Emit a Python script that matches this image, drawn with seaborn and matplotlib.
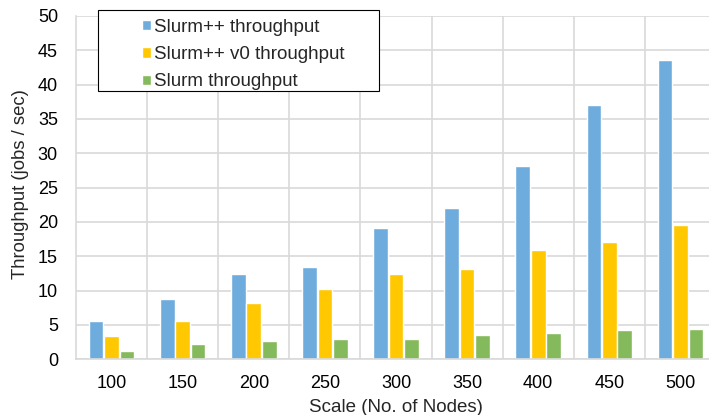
import matplotlib
matplotlib.use("Agg")
import matplotlib.pyplot as plt
import seaborn as sns
import pandas as pd
import numpy as np
from matplotlib.patches import Rectangle

scales = ["100", "150", "200", "250", "300", "350", "400", "450", "500"]
slurmpp = [5.6, 8.8, 12.4, 13.4, 19.1, 22.1, 28.1, 37.1, 43.6]
slurmpp_v0 = [3.4, 5.6, 8.2, 10.2, 12.4, 13.1, 15.9, 17.1, 19.5]
slurm = [1.2, 2.2, 2.6, 3.0, 3.0, 3.5, 3.9, 4.3, 4.4]
series = ["Slurm++ throughput", "Slurm++ v0 throughput", "Slurm throughput"]
colors = ["#6FACDE", "#FFC800", "#84BA5B"]

df = pd.DataFrame({
    "scale": scales * 3,
    "value": slurmpp + slurmpp_v0 + slurm,
    "series": [series[0]] * 9 + [series[1]] * 9 + [series[2]] * 9,
})

sns.set_theme(style="white")
plt.rcParams["font.family"] = ["Liberation Sans", "DejaVu Sans"]

FS = 13
fig = plt.figure(figsize=(7.09, 4.15), dpi=100)
W, H = 709, 415
left, right, top, bottom = 76, 716, 16, 359.3
aw, ah = right - left, bottom - top
ax = fig.add_axes([left / W, (H - bottom) / H, aw / W, ah / H])

sns.barplot(data=df, x="scale", y="value", hue="series", order=scales,
            hue_order=series, palette=colors, width=0.65, gap=0.05,
            saturation=1, ax=ax, legend=True)

ax.set_ylim(0, 50)
ax.set_yticks(np.arange(0, 51, 5))
ax.set_xlim(-0.5, len(scales) - 0.5)
ax.set_xticks(np.arange(len(scales) - 1) + 0.5, minor=True)
gc = "#D9D9D9"
ax.grid(axis="y", which="major", color=gc, linewidth=1.2)
ax.grid(axis="x", which="minor", color=gc, linewidth=1.2)
ax.grid(axis="x", which="major", visible=False)
ax.set_axisbelow(True)
for s in ["top", "right"]:
    ax.spines[s].set_visible(False)
for s in ["left", "bottom"]:
    ax.spines[s].set_color(gc)
    ax.spines[s].set_linewidth(1.2)
ax.tick_params(axis="both", which="both", length=0, labelsize=FS, colors="black")
ax.tick_params(axis="y", pad=13)
ax.tick_params(axis="x", pad=11.5)

ax.set_xlabel("Scale (No. of Nodes)", fontsize=13.5)
ax.set_ylabel("Throughput (jobs / sec)", fontsize=13.3)
ax.xaxis.set_label_coords(0.5, (bottom - 399) / ah)
ax.yaxis.set_label_coords((29.5 - left) / aw, (bottom - 184.5) / ah)

handles, labels = ax.get_legend_handles_labels()
ax.get_legend().remove()
leg = ax.legend(handles, labels, loc="upper left",
                bbox_to_anchor=((142 - left) / aw, (bottom - 18.5) / ah),
                frameon=False, fontsize=13.5, handlelength=0.48, handleheight=0.48,
                handletextpad=0.15, labelspacing=0.56, borderpad=0.0, borderaxespad=0)
rect = Rectangle(((98 - left) / aw, (bottom - 91) / ah),
                 (379 - 98) / aw, 81 / ah,
                 transform=ax.transAxes, fill=True, facecolor="white",
                 edgecolor="black", linewidth=0.8, zorder=4, clip_on=False)
ax.add_patch(rect)
leg.set_zorder(5)

fig.savefig("out.png", dpi=100)
